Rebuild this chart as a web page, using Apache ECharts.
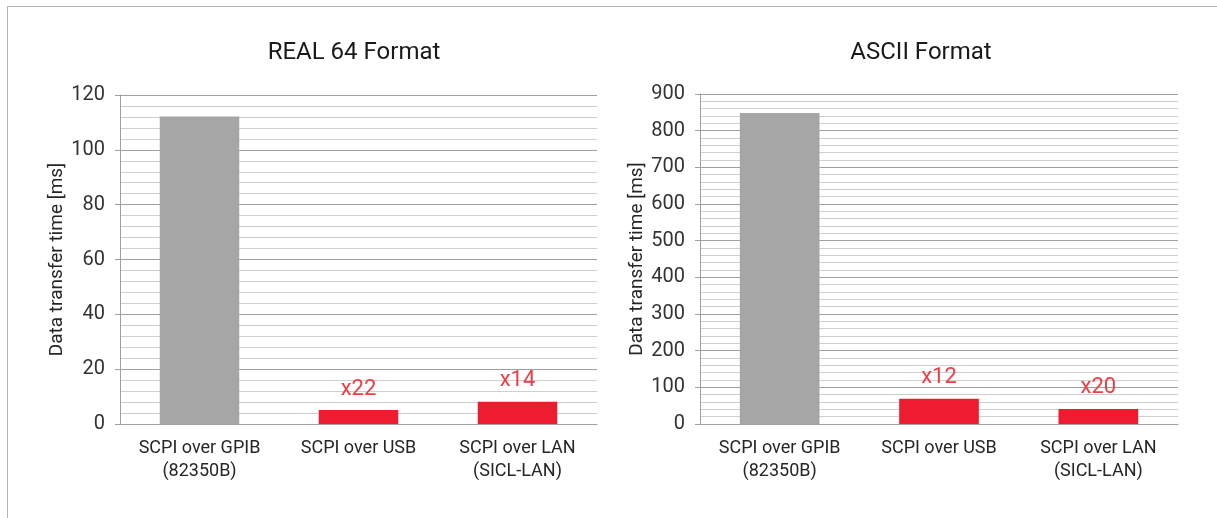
<!DOCTYPE html>
<html>
<head>
<meta charset="utf-8">
<script src="https://cdn.jsdelivr.net/npm/echarts@6/dist/echarts.min.js"></script>
<style>
  html, body { margin: 0; padding: 0; background: #fff; }
  #frame { position: absolute; left: 7px; top: 6px; width: 1300px; height: 600px; border-left: 1px solid #b4b4b4; border-top: 1px solid #b4b4b4; }
  #chart { position: absolute; left: 0; top: 0; width: 1217px; height: 518px; }
</style>
</head>
<body>
<div id="frame"></div>
<div id="chart"></div>
<script>
// Data
const categories = ['SCPI over GPIB\n(82350B)', 'SCPI over USB', 'SCPI over LAN\n(SICL-LAN)'];
const real64Values = [112.2, 5.1, 8.1];
const real64Labels = ['', 'x22', 'x14'];
const asciiValues = [848, 69, 41];
const asciiLabels = ['', 'x12', 'x20'];
const titles = ['REAL 64 Format', 'ASCII Format'];
const yAxisName = 'Data transfer time [ms]';

const FONT = 'Roboto, "DejaVu Sans", sans-serif';
const GRAY = '#a6a6a6';
const RED = '#ed1c2e';
const LABEL_RED = '#f03c44';
const TEXT = '#262626';

function xAxis(gi) {
  return {
    type: 'category', gridIndex: gi, data: categories,
    axisLine: { show: true, lineStyle: { color: '#a0a0a0', width: 1 } },
    axisTick: { show: false },
    axisLabel: { color: TEXT, fontFamily: FONT, fontSize: 18, lineHeight: 23, margin: 13, interval: 0 }
  };
}
function yAxis(gi, max, interval) {
  return {
    type: 'value', gridIndex: gi, min: 0, max: max, interval: interval,
    name: yAxisName, nameLocation: 'middle', nameGap: 53, nameRotate: 90,
    nameTextStyle: { color: TEXT, fontFamily: FONT, fontSize: 19 },
    axisLine: { show: true, lineStyle: { color: '#a0a0a0', width: 1 } },
    axisTick: { show: true, length: 5, lineStyle: { color: '#a0a0a0' } },
    axisLabel: { color: '#333', fontFamily: FONT, fontSize: 20, margin: 15 },
    splitLine: { show: true, lineStyle: { color: '#a0a0a0', width: 1 } },
    minorTick: { show: false, splitNumber: 5 },
    minorSplitLine: { show: true, lineStyle: { color: '#cfcfcf', width: 1 } }
  };
}
function barSeries(gi, values, labels) {
  return {
    type: 'bar', xAxisIndex: gi, yAxisIndex: gi, data: values,
    barWidth: '50%',
    itemStyle: { color: p => p.dataIndex === 0 ? GRAY : RED },
    label: {
      show: true, position: 'top', distance: 10,
      color: LABEL_RED, fontFamily: FONT, fontSize: 22,
      formatter: p => labels[p.dataIndex]
    }
  };
}

const chart = echarts.init(document.getElementById('chart'), null, { renderer: 'canvas' });
chart.setOption({
  backgroundColor: 'transparent',
  animation: false,
  title: [
    { text: titles[0], left: 349, top: 36, textAlign: 'center', textStyle: { color: '#1a1a1a', fontFamily: FONT, fontSize: 24, fontWeight: 'normal' } },
    { text: titles[1], left: 916, top: 36, textAlign: 'center', textStyle: { color: '#1a1a1a', fontFamily: FONT, fontSize: 24, fontWeight: 'normal' } }
  ],
  grid: [
    { left: 120, top: 95, width: 477, height: 329 },
    { left: 700, top: 94, width: 478, height: 330 }
  ],
  xAxis: [xAxis(0), xAxis(1)],
  yAxis: [yAxis(0, 120, 20), yAxis(1, 900, 100)],
  series: [barSeries(0, real64Values, real64Labels), barSeries(1, asciiValues, asciiLabels)]
});
</script>
</body>
</html>
